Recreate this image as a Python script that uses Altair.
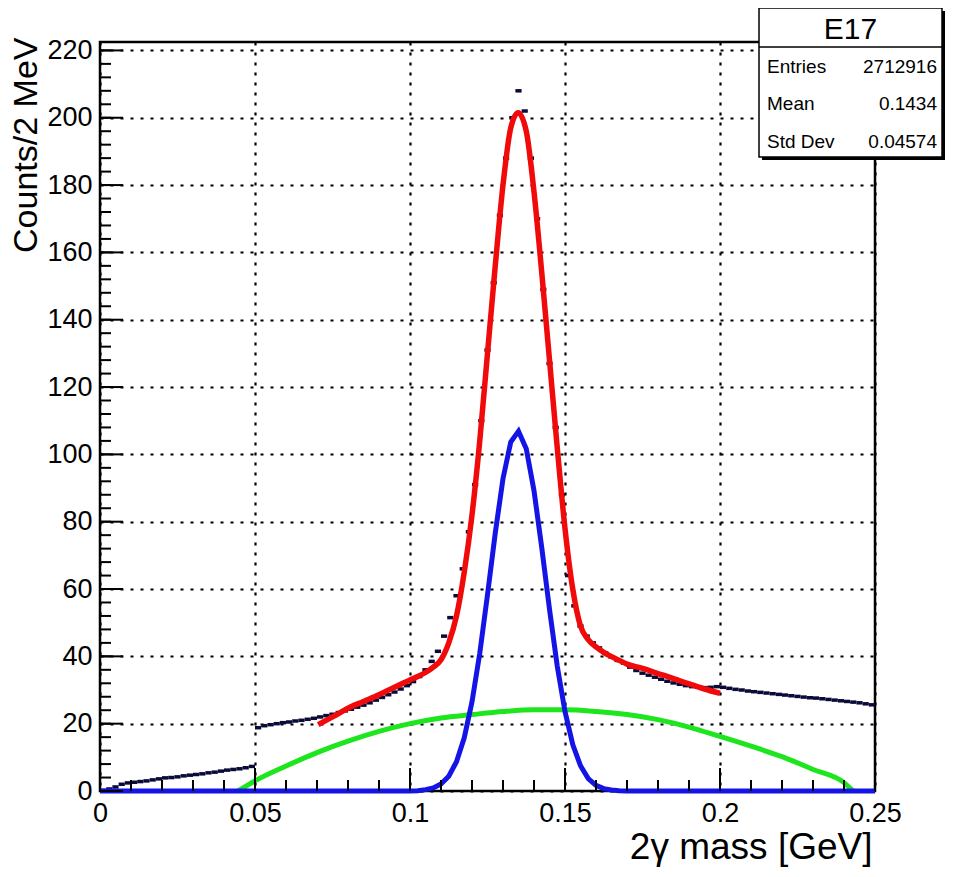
import altair as alt
import pandas as pd

# ---------------- data ----------------
BIN_W = 0.002
hist_counts = [
    0.2, 0.6, 1.2, 2.0, 2.4, 2.6, 2.8, 3.0, 3.3, 3.6, 3.9, 4.0, 4.2, 4.5, 4.7,
    4.9, 5.1, 5.4, 5.6, 5.9, 6.2, 6.4, 6.6, 6.9, 7.3,
    18.8, 19.4, 19.7, 20.0, 20.3, 20.5, 20.8, 21.0, 21.3, 21.6, 22.0, 22.4, 22.8, 23.3, 23.8,
    24.3, 24.9, 25.5, 26.2, 27.0, 27.8, 28.6, 29.4, 30.3, 31.3,
    32.5, 34.0, 36.0, 38.5, 41.5, 46.0, 51.5, 58, 66, 77, 91, 110, 131, 151, 171,
    188, 200, 208, 202, 188, 170, 149, 127, 108, 88,
    64, 55, 49, 46, 44, 42.5, 41, 39.8, 38.8, 38.0, 36.8, 35.8, 35.0, 34.4, 33.8,
    33.2, 32.6, 32.1, 31.7, 31.3, 31.0, 30.8, 30.7, 30.8, 31.0,
    30.8, 30.5, 30.2, 30.0, 29.7, 29.5, 29.3, 29.1, 28.9, 28.7, 28.5, 28.3, 28.1, 27.9, 27.7,
    27.6, 27.4, 27.2, 27.0, 26.8, 26.6, 26.4, 26.2, 25.9, 25.6,
]
bin_lo = [round(i * BIN_W, 3) for i in range(len(hist_counts))]

# total fit (red)
total_x = [0.0704, 0.075, 0.080, 0.085, 0.090, 0.095, 0.100, 0.1025, 0.105, 0.1075, 0.110,
           0.1125, 0.115, 0.1175, 0.120, 0.1225, 0.125, 0.1275, 0.130, 0.1325, 0.1349,
           0.1375, 0.140, 0.1425, 0.145, 0.1475, 0.150, 0.1525, 0.155, 0.1575, 0.160,
           0.1625, 0.165, 0.1675, 0.170, 0.175, 0.180, 0.185, 0.190, 0.195, 0.200]
total_y = [19.7, 22.0, 24.6, 26.6, 28.6, 30.8, 33.0, 34.0, 35.2, 36.8, 39.0,
           44.0, 52.0, 65.0, 82.0, 104.0, 130.0, 156.0, 180.0, 197.0, 201.5,
           196.0, 178.0, 154.0, 128.0, 102.0, 78.0, 60.0, 49.0, 45.0, 42.8,
           41.2, 39.9, 38.8, 37.7, 36.4, 34.9, 33.4, 31.8, 30.3, 29.0]

# signal (blue)
signal_x = [0.0, 0.100, 0.1025, 0.105, 0.1075, 0.110, 0.1125, 0.115, 0.1175, 0.120, 0.1225,
            0.125, 0.1275, 0.130, 0.1325, 0.135, 0.1375, 0.140, 0.1425, 0.145, 0.1475,
            0.150, 0.1525, 0.155, 0.1575, 0.160, 0.1625, 0.165, 0.1675, 0.170, 0.250]
signal_y = [0, 0, 0.1, 0.4, 0.9, 2.1, 4.4, 8.7, 15.8, 26.5, 40.9,
            58.3, 76.6, 92.8, 103.7, 106.9, 101.7, 89.2, 72.3, 54.0, 37.1,
            23.6, 13.8, 7.5, 3.7, 1.7, 0.7, 0.3, 0.1, 0, 0]

# background (green)
bkg_x = [0.0445, 0.05, 0.06, 0.07, 0.08, 0.09, 0.10, 0.11, 0.12, 0.13, 0.14, 0.15,
         0.16, 0.17, 0.18, 0.19, 0.20, 0.21, 0.22, 0.23, 0.24, 0.243]
bkg_y = [0, 3.0, 7.4, 11.4, 14.8, 17.7, 20.0, 21.7, 22.7, 23.6, 24.1, 24.1,
         23.6, 22.7, 21.2, 19.0, 16.2, 13.3, 10.2, 6.4, 2.5, 0]

x_major_ticks = [0, 0.05, 0.10, 0.15, 0.20, 0.25]
x_minor_ticks = [round(0.01 * i, 2) for i in range(26)]
y_major_ticks = [0, 20, 40, 60, 80, 100, 120, 140, 160, 180, 200, 220]
y_minor_ticks = list(range(0, 223, 4))

stat_title = "E17"
stat_labels = ["Entries", "Mean", "Std Dev"]
stat_values = ["2712916", "0.1434", "0.04574"]

x_title = "2γ mass [GeV]"
y_title = "Counts/2 MeV"

# ---------------- chart ----------------
W, H = 775, 749
FONT = "Liberation Sans"
Y_MAX = 222.5
X_MAX = 0.25

xs = alt.Scale(domain=[0, X_MAX], nice=False, zero=False)
ys = alt.Scale(domain=[0, Y_MAX], nice=False)

x_axis = alt.Axis(values=x_major_ticks, format="~g", title=x_title, ticks=False, tickSize=0,
                  domain=False, grid=True, gridColor="black", gridDash=[3, 7], gridWidth=2.2,
                  labelFont=FONT, labelFontSize=27, labelColor="black", labelPadding=9,
                  labelFlush=False, labelOverlap=False,
                  titleFont=FONT, titleFontSize=37, titleFontWeight="normal", titleColor="black",
                  titleX=772, titleY=67, titleAlign="right", titleBaseline="alphabetic")
y_axis = alt.Axis(values=y_major_ticks, format="d", title=y_title, ticks=False, tickSize=0,
                  domain=False, grid=True, gridColor="black", gridDash=[3, 7], gridWidth=2.2,
                  labelFont=FONT, labelFontSize=27, labelColor="black", labelPadding=8,
                  labelFlush=False, labelOverlap=False,
                  titleFont=FONT, titleFontSize=34, titleFontWeight="normal", titleColor="black",
                  titleX=-64, titleY=-5, titleAngle=270, titleAlign="right",
                  titleBaseline="alphabetic")

hist_df = pd.DataFrame({"lo": bin_lo, "n": hist_counts})
hist = alt.Chart(hist_df).transform_calculate(hi=f"datum.lo + {BIN_W}").mark_rule(
    color="#0b0b3a", strokeWidth=3.5
).encode(
    x=alt.X("lo:Q", scale=xs, axis=x_axis),
    x2="hi:Q",
    y=alt.Y("n:Q", scale=ys, axis=y_axis),
)


def curve(xv, yv, color, width, interp):
    df = pd.DataFrame({"x": xv, "y": yv})
    return alt.Chart(df).mark_line(color=color, strokeWidth=width, interpolate=interp).encode(
        x=alt.X("x:Q", scale=xs, axis=x_axis),
        y=alt.Y("y:Q", scale=ys, axis=y_axis),
    )


bkg = curve(bkg_x, bkg_y, "#1ee61e", 5, "monotone")
sig = curve(signal_x, signal_y, "#1414e6", 5, "linear")
tot = curve(total_x, total_y, "#f00a0a", 5.5, "monotone")

# inward ticks (lengths in pixels converted to data units)
px_y = Y_MAX / H
px_x = X_MAX / W


def xticks(vals, length):
    return alt.Chart(pd.DataFrame({"t": vals})).mark_rule(color="black", strokeWidth=2).encode(
        x=alt.X("t:Q", scale=xs, axis=x_axis),
        y=alt.YDatum(0.0),
        y2=alt.Y2Datum(length * px_y),
    )


def yticks(vals, length):
    return alt.Chart(pd.DataFrame({"t": vals})).mark_rule(color="black", strokeWidth=2).encode(
        y=alt.Y("t:Q", scale=ys, axis=y_axis),
        x=alt.XDatum(0.0),
        x2=alt.X2Datum(length * px_x),
    )


xmin = xticks(x_minor_ticks, 11)
xmaj = xticks(x_major_ticks, 23)
ymin = yticks(y_minor_ticks, 11)
ymaj = yticks(y_major_ticks, 23)

# stats box (annotation in pixel space)
bx0, bx1, by0, by1 = 659, 842, -34, 115
one = pd.DataFrame({"title": [stat_title]})
shadow = alt.Chart(one).mark_rect(fill="black").encode(
    x=alt.value(bx0 + 3), x2=alt.value(bx1 + 3), y=alt.value(by0 + 3), y2=alt.value(by1 + 3))
box = alt.Chart(one).mark_rect(fill="white", stroke="black", strokeWidth=1.5).encode(
    x=alt.value(bx0), x2=alt.value(bx1), y=alt.value(by0), y2=alt.value(by1))
sep = alt.Chart(one).mark_rule(color="black", strokeWidth=1.5).encode(
    x=alt.value(bx0), x2=alt.value(bx1), y=alt.value(5), y2=alt.value(5))
ttl = alt.Chart(one).mark_text(font=FONT, fontSize=30, align="center", baseline="alphabetic",
                               color="black").encode(
    x=alt.value((bx0 + bx1) / 2), y=alt.value(-3), text="title:N")

stat_layers = []
row_y = [31, 68, 106]
for i in range(len(stat_labels)):
    d = pd.DataFrame({"label": [stat_labels[i]], "value": [stat_values[i]]})
    stat_layers.append(alt.Chart(d).mark_text(font=FONT, fontSize=19, align="left",
                                              baseline="alphabetic", color="black").encode(
        x=alt.value(bx0 + 8), y=alt.value(row_y[i]), text="label:N"))
    stat_layers.append(alt.Chart(d).mark_text(font=FONT, fontSize=19, align="right",
                                              baseline="alphabetic", color="black").encode(
        x=alt.value(bx1 - 5), y=alt.value(row_y[i]), text="value:N"))

chart = alt.layer(
    hist, bkg, sig, tot, xmin, xmaj, ymin, ymaj, shadow, box, sep, ttl, *stat_layers
).properties(
    width=W, height=H,
    autosize=alt.AutoSizeParams(type="none"),
    padding={"left": 92, "top": 34, "right": 70, "bottom": 80},
    background="white",
).configure_view(stroke="black", strokeWidth=2.5)

chart.save("out.html", embed_options={"renderer": "svg", "actions": False})
